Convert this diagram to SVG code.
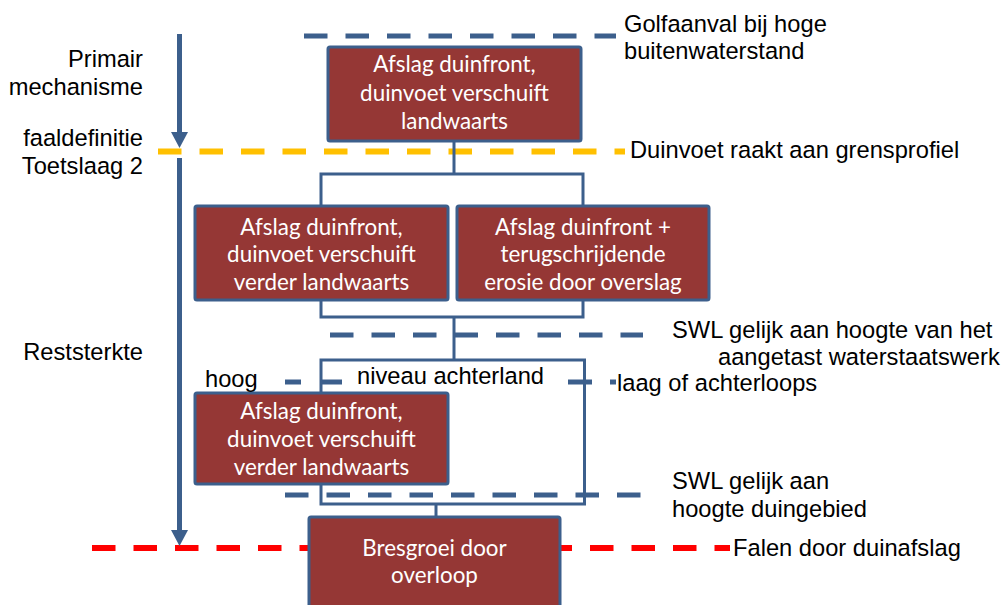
<svg xmlns="http://www.w3.org/2000/svg" width="1006" height="605" viewBox="0 0 1006 605">
<defs>
<style>
.box{fill:#953735;stroke:#3C5F8C;stroke-width:3}
.bt{font-family:Lato,"Open Sans",sans-serif;font-size:22.4px;fill:#fff;text-anchor:middle}
.lbl{font-family:"Liberation Sans",Arial,sans-serif;font-size:23.7px;fill:#000}
.r{text-anchor:end}
.conn{fill:none;stroke:#3C5F8C;stroke-width:3}
.bd{stroke:#3C5F8C;stroke-width:5;stroke-dasharray:23.5 18;fill:none}
.bs{stroke:#3C5F8C;stroke-width:5;fill:none}
.yd{stroke:#FFC000;stroke-width:6;stroke-dasharray:23.5 18;fill:none}
.rd{stroke:#FF0000;stroke-width:6;stroke-dasharray:23.5 18;fill:none}
.ax{stroke:#3C5F8C;stroke-width:5;fill:none}
.ah{fill:#3C5F8C}
</style>
</defs>
<rect width="1006" height="605" fill="#fff"/>
<g id="levels">
<line class="bd" x1="304" y1="36" x2="616" y2="36"/>
<line class="yd" x1="158" y1="151.5" x2="625" y2="151.5"/>
<line class="bd" x1="330" y1="335" x2="643" y2="335"/>
<line class="bs" x1="285" y1="382" x2="301" y2="382"/>
<line class="bs" x1="320" y1="382" x2="342" y2="382"/>
<line class="bs" x1="568" y1="382" x2="592" y2="382"/>
<line class="bs" x1="610" y1="382" x2="616" y2="382"/>
<line class="bd" x1="285" y1="495" x2="643" y2="495"/>
<line class="rd" x1="92" y1="548" x2="730" y2="548"/>
</g>
<g id="axis">
<line class="ax" x1="179.5" y1="34" x2="179.5" y2="134"/>
<polygon class="ah" points="171,132 188,132 179.5,148"/>
<line class="ax" x1="179.5" y1="158" x2="179.5" y2="532"/>
<polygon class="ah" points="171,530 188,530 179.5,546"/>
</g>
<g id="connectors">
<polyline class="conn" points="454,141 454,174"/>
<polyline class="conn" points="321,207 321,174 583,174 583,207"/>
<polyline class="conn" points="321,300 321,317 583,317 583,300"/>
<polyline class="conn" points="454,317 454,360"/>
<polyline class="conn" points="321,394 321,360 584.5,360 584.5,504 321,504 321,484"/>
<polyline class="conn" points="436,504 436,517"/>
</g>
<g id="n1">
<rect class="box" x="328" y="47" width="253" height="94" rx="2"/>
<text class="bt" x="454.5" y="72">Afslag duinfront,</text>
<text class="bt" x="454.5" y="101">duinvoet verschuift</text>
<text class="bt" x="454.5" y="129">landwaarts</text>
</g>
<g id="n2">
<rect class="box" x="195" y="206" width="253" height="94" rx="2"/>
<text class="bt" x="321.5" y="235">Afslag duinfront,</text>
<text class="bt" x="321.5" y="262">duinvoet verschuift</text>
<text class="bt" x="321.5" y="290">verder landwaarts</text>
</g>
<g id="n3">
<rect class="box" x="457" y="206" width="252" height="94" rx="2"/>
<text class="bt" x="583" y="235">Afslag duinfront +</text>
<text class="bt" x="583" y="262">terugschrijdende</text>
<text class="bt" x="583" y="290">erosie door overslag</text>
</g>
<g id="n4">
<rect class="box" x="195" y="393" width="253" height="91" rx="2"/>
<text class="bt" x="321.5" y="419">Afslag duinfront,</text>
<text class="bt" x="321.5" y="447">duinvoet verschuift</text>
<text class="bt" x="321.5" y="475">verder landwaarts</text>
</g>
<g id="n5">
<rect class="box" x="309" y="517" width="251" height="100" rx="2"/>
<text class="bt" x="434.5" y="556">Bresgroei door</text>
<text class="bt" x="434.5" y="583">overloop</text>
</g>
<g id="labels">
<text class="lbl r" x="143" y="67">Primair</text>
<text class="lbl r" x="143" y="95">mechanisme</text>
<text class="lbl r" x="143" y="146">faaldefinitie</text>
<text class="lbl r" x="143" y="174">Toetslaag 2</text>
<text class="lbl r" x="143" y="360">Reststerkte</text>
<text class="lbl" x="624" y="32">Golfaanval bij hoge</text>
<text class="lbl" x="624" y="59">buitenwaterstand</text>
<text class="lbl" x="630" y="158">Duinvoet raakt aan grensprofiel</text>
<text class="lbl" x="672" y="338">SWL gelijk aan hoogte van het</text>
<text class="lbl" x="718" y="365">aangetast waterstaatswerk</text>
<text class="lbl" x="205" y="387">hoog</text>
<text class="lbl" x="357" y="384">niveau achterland</text>
<text class="lbl" x="617" y="391">laag of achterloops</text>
<text class="lbl" x="672" y="489">SWL gelijk aan</text>
<text class="lbl" x="672" y="517">hoogte duingebied</text>
<text class="lbl" x="733" y="556">Falen door duinafslag</text>
</g>
</svg>
